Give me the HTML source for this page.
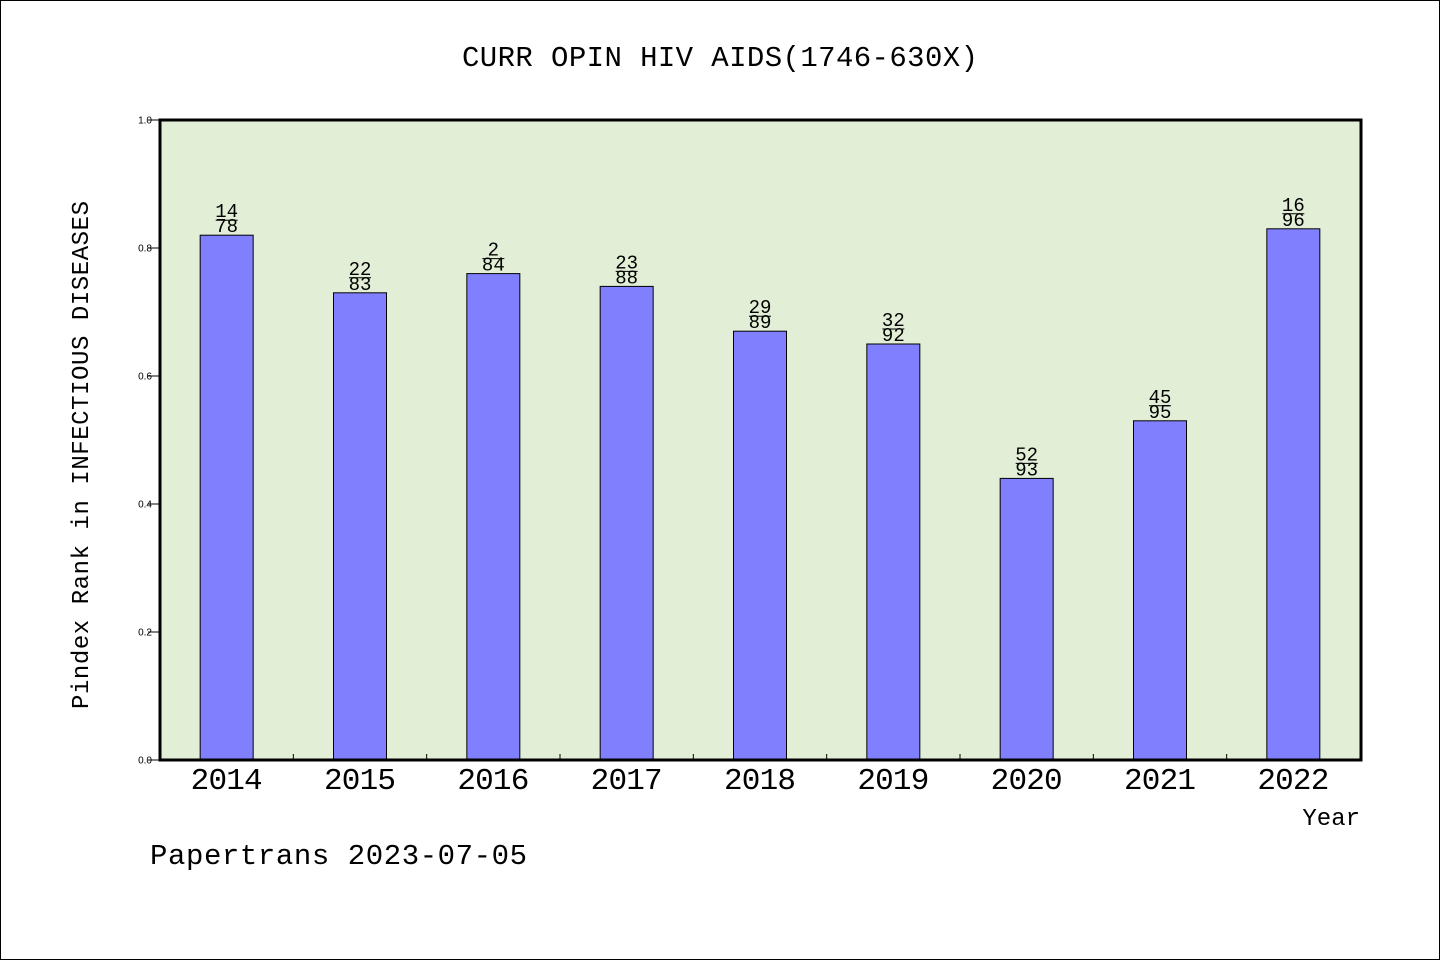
<!DOCTYPE html>
<html><head><meta charset="utf-8"><style>
html,body{margin:0;padding:0;background:#fff}
svg{display:block}
text{font-family:"Liberation Mono","DejaVu Sans Mono",monospace;fill:#000}
</style></head><body>
<svg id="chart" width="1440" height="960" xmlns="http://www.w3.org/2000/svg">
<rect x="0.5" y="0.5" width="1439" height="959" fill="#fff" stroke="#000"/>
<text x="720" y="66" font-size="29" text-anchor="middle" textLength="516">CURR OPIN HIV AIDS(1746-630X)</text>
<rect x="160" y="120" width="1201" height="640" fill="#e2efd6"/>
<g id="bars"></g>
<rect x="160" y="120" width="1201" height="640" fill="none" stroke="#000" stroke-width="3"/>
<g id="axes"></g>
<text x="1360" y="825" font-size="24" text-anchor="end">Year</text>
<text transform="translate(88,455) rotate(-90)" font-size="24" text-anchor="middle" textLength="508">Pindex Rank in INFECTIOUS DISEASES</text>
<text x="150" y="864" font-size="29" textLength="377">Papertrans 2023-07-05</text>
</svg>
<script>
const years=["2014","2015","2016","2017","2018","2019","2020","2021","2022"];
const values=[0.82,0.73,0.76,0.74,0.67,0.65,0.44,0.53,0.83];
const ranks=["14","22","2","23","29","32","52","45","16"];
const totals=["78","83","84","88","89","92","93","95","96"];
const yTicks=["0.0","0.2","0.4","0.6","0.8","1.0"];
const NS="http://www.w3.org/2000/svg";
const X0=160,W=1200,Y0=760,H=640;
const band=W/years.length;
const xc=i=>X0+band*(i+0.5);
const y=v=>Y0-v*H;
function mk(tag,attrs,parent,txt){const e=document.createElementNS(NS,tag);for(const k in attrs)e.setAttribute(k,attrs[k]);if(txt!==undefined)e.textContent=txt;parent.appendChild(e);return e;}
const gb=document.getElementById('bars'),ga=document.getElementById('axes');
years.forEach((yr,i)=>{
 const b=mk('rect',{x:xc(i)-26.5,y:y(values[i]),width:53,height:Y0-y(values[i]),fill:'#8080ff',stroke:'#000','stroke-width':1},gb);
 
 
 const top=y(values[i]);
 const t1=mk('text',{x:xc(i),y:top-18,'font-size':19,'text-anchor':'middle'},gb,ranks[i]);
 
 
 const ln=mk('line',{x1:xc(i)-11,x2:xc(i)+11,y1:top-15,y2:top-15,stroke:'#000','stroke-width':1},gb);
 
 
 const t2=mk('text',{x:xc(i),y:top-3,'font-size':19,'text-anchor':'middle'},gb,totals[i]);
 
 
 const xl=mk('text',{x:xc(i),y:789,'font-size':31,'text-anchor':'middle',textLength:72},ga,yr);
 
 
 if(i>0){const tk=mk('line',{x1:X0+band*i,x2:X0+band*i,y1:Y0,y2:Y0-6,stroke:'#000'},ga);
 
 }
});
yTicks.forEach(t=>{
 const v=parseFloat(t);
 const tk=mk('line',{x1:148,x2:160,y1:y(v),y2:y(v),stroke:'#000'},ga);
 
 
 const tl=mk('text',{x:152,y:y(v)+3.5,'font-size':10,'text-anchor':'end',style:'font-family:"Liberation Sans",sans-serif'},ga,t);
 
 
});
</script>
</body></html>
